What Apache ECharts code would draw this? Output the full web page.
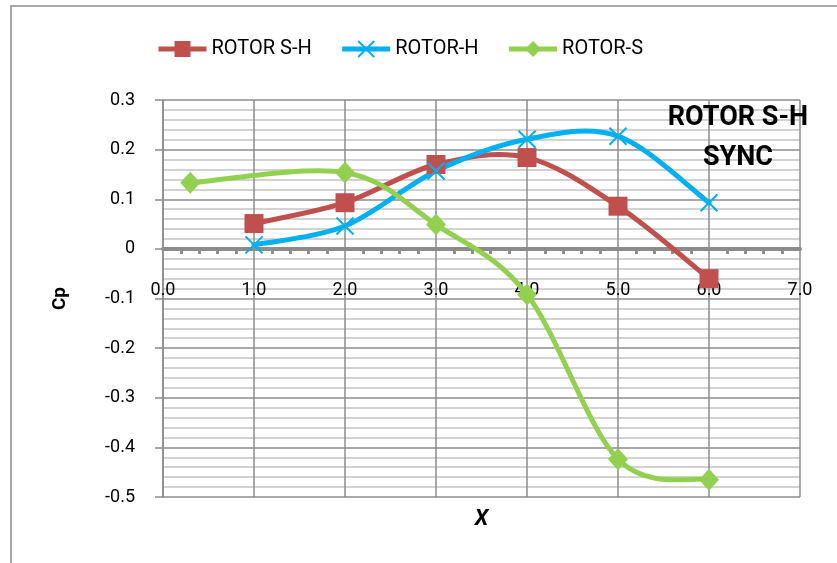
<!DOCTYPE html>
<html>
<head>
<meta charset="utf-8">
<script src="https://cdn.jsdelivr.net/npm/echarts@6/dist/echarts.min.js"></script>
<style>
html,body{margin:0;padding:0;background:#fff;}
#c{width:837px;height:563px;}
</style>
</head>
<body>
<div id="c"></div>
<script>
const seriesNames = ['ROTOR S-H', 'ROTOR-H', 'ROTOR-S'];
const xRotorSH = [1, 2, 3, 4, 5, 6];
const yRotorSH = [0.051, 0.093, 0.170, 0.184, 0.086, -0.060];
const xRotorH = [1, 2, 3, 4, 5, 6];
const yRotorH = [0.008, 0.046, 0.157, 0.221, 0.227, 0.093];
const xRotorS = [0.3, 2, 3, 4, 5, 6];
const yRotorS = [0.133, 0.154, 0.049, -0.092, -0.424, -0.465];
const annotationLines = ['ROTOR S-H', 'SYNC'];
const xTitle = 'X';
const yTitle = 'Cp';

const FONT = "Roboto, 'Liberation Sans', sans-serif";
const pairs = (xs, ys) => xs.map((x, i) => [x, ys[i]]);

const chart = echarts.init(document.getElementById('c'), null, {renderer: 'canvas'});
const colors = ['#C0504D', '#00B0F0', '#92D050'];
const crossPath = 'path://M0,0L10,10M10,0L0,10';

// Smooth curve (Catmull-Rom style Bezier, like the spreadsheet's smoothed line), through the axes' own coord conversion
function curveSeries(xs, ys, color) {
  return {
    type: 'custom', silent: true, z: 2,
    data: pairs(xs, ys),
    encode: {x: 0, y: 1},
    renderItem: (params, api) => {
      if (params.dataIndex !== 0) return null;
      const pts = xs.map((x, i) => api.coord([x, ys[i]]));
      let d = 'M' + pts[0][0] + ',' + pts[0][1];
      for (let i = 0; i < pts.length - 1; i++) {
        const p0 = pts[i - 1] || pts[i], p1 = pts[i], p2 = pts[i + 1], p3 = pts[i + 2] || pts[i + 1];
        const c1 = [p1[0] + (p2[0] - p0[0]) / 6, p1[1] + (p2[1] - p0[1]) / 6];
        const c2 = [p2[0] - (p3[0] - p1[0]) / 6, p2[1] - (p3[1] - p1[1]) / 6];
        d += 'C' + c1[0] + ',' + c1[1] + ' ' + c2[0] + ',' + c2[1] + ' ' + p2[0] + ',' + p2[1];
      }
      return {type: 'path', shape: {pathData: d},
        style: {fill: 'none', stroke: color, lineWidth: 5, lineJoin: 'round', lineCap: 'round'}};
    }
  };
}
function markerSeries(name, xs, ys, color, symbol, size, extraItem) {
  return {
    name: name, type: 'line', z: 2,
    data: pairs(xs, ys),
    symbol: symbol, symbolSize: size,
    lineStyle: {width: 5, color: color, opacity: 0},
    itemStyle: Object.assign({color: color, borderWidth: 0}, extraItem || {})
  };
}

const baseOption = {
  animation: false,
  backgroundColor: '#fff',
  color: colors,
  textStyle: {fontFamily: FONT},
  legend: {
    left: 151, top: 34,
    itemWidth: 48, itemHeight: 20, itemGap: 28,
    textStyle: {fontFamily: FONT, fontSize: 20, color: '#000'},
    data: seriesNames.map((n, i) => ({name: n, lineStyle: {color: colors[i], width: 5, opacity: 1, type: 'solid'}}))
  },
  grid: {left: 163, right: 37, top: 100, bottom: 66, containLabel: false, outerBoundsMode: 'none'},
  xAxis: {
    type: 'value', min: 0, max: 7, interval: 1,
    name: xTitle, nameLocation: 'middle', nameGap: 271,
    nameTextStyle: {fontFamily: FONT, fontSize: 22, fontWeight: 'bold', fontStyle: 'italic', color: '#000', verticalAlign: 'middle'},
    axisLine: {onZero: false, lineStyle: {color: '#8c8c8c', width: 4}},
    axisTick: {show: false},
    minorTick: {show: true, splitNumber: 5, length: 5, lineStyle: {color: '#8c8c8c', width: 3}},
    axisLabel: {margin: 33, fontSize: 18, color: '#000', formatter: v => v.toFixed(1)},
    splitLine: {show: true, lineStyle: {color: '#8c8c8c', width: 1.5}}
  },
  yAxis: {
    type: 'value', min: -0.5, max: 0.3, interval: 0.1,
    name: yTitle, nameLocation: 'middle', nameGap: 93, nameRotate: 90,
    nameTextStyle: {fontFamily: FONT, fontSize: 19, fontWeight: 'bold', color: '#000'},
    axisLine: {show: true, lineStyle: {color: '#8c8c8c', width: 1.5}},
    axisTick: {show: true, inside: false, length: 8, lineStyle: {color: '#8c8c8c', width: 1.5}},
    axisLabel: {margin: 28, fontSize: 18, color: '#000',
      formatter: v => Math.abs(v) < 1e-9 ? '0' : v.toFixed(1)},
    splitLine: {show: true, lineStyle: {color: '#8c8c8c', width: 1.5}},
    minorTick: {show: false, splitNumber: 5},
    minorSplitLine: {show: true, lineStyle: {color: '#c4c4c4', width: 1.5}}
  },
  graphic: [
    {type: 'rect', z: -10, silent: true, shape: {x: 11, y: 6, width: 840, height: 620},
      style: {fill: 'none', stroke: '#8c8c8c', lineWidth: 1.5}},
    {type: 'text', x: 738, y: 118, z: 100,
      style: {text: annotationLines[0], fontFamily: FONT, fontSize: 27, fontWeight: 'bold', fill: '#000', textAlign: 'center', textVerticalAlign: 'middle'}},
    {type: 'text', x: 738, y: 158, z: 100,
      style: {text: annotationLines[1], fontFamily: FONT, fontSize: 27, fontWeight: 'bold', fill: '#000', textAlign: 'center', textVerticalAlign: 'middle'}}
  ],
  series: [
    curveSeries(xRotorSH, yRotorSH, colors[0]),
    markerSeries(seriesNames[0], xRotorSH, yRotorSH, colors[0], 'rect', 19),
    curveSeries(xRotorH, yRotorH, colors[1]),
    markerSeries(seriesNames[1], xRotorH, yRotorH, colors[1], crossPath, 17, {borderColor: colors[1], borderWidth: 2}),
    curveSeries(xRotorS, yRotorS, colors[2]),
    markerSeries(seriesNames[2], xRotorS, yRotorS, colors[2], 'diamond', [20, 22])
  ]
};
chart.setOption(baseOption);
// Place the x axis (line, ticks, labels, title) on y = 0 using the y axis scale
const yZero = chart.convertToPixel({yAxisIndex: 0}, 0);
const yMin = chart.convertToPixel({yAxisIndex: 0}, -0.5);
chart.setOption({xAxis: {offset: yZero - yMin, nameGap: 271}});
</script>
</body>
</html>
